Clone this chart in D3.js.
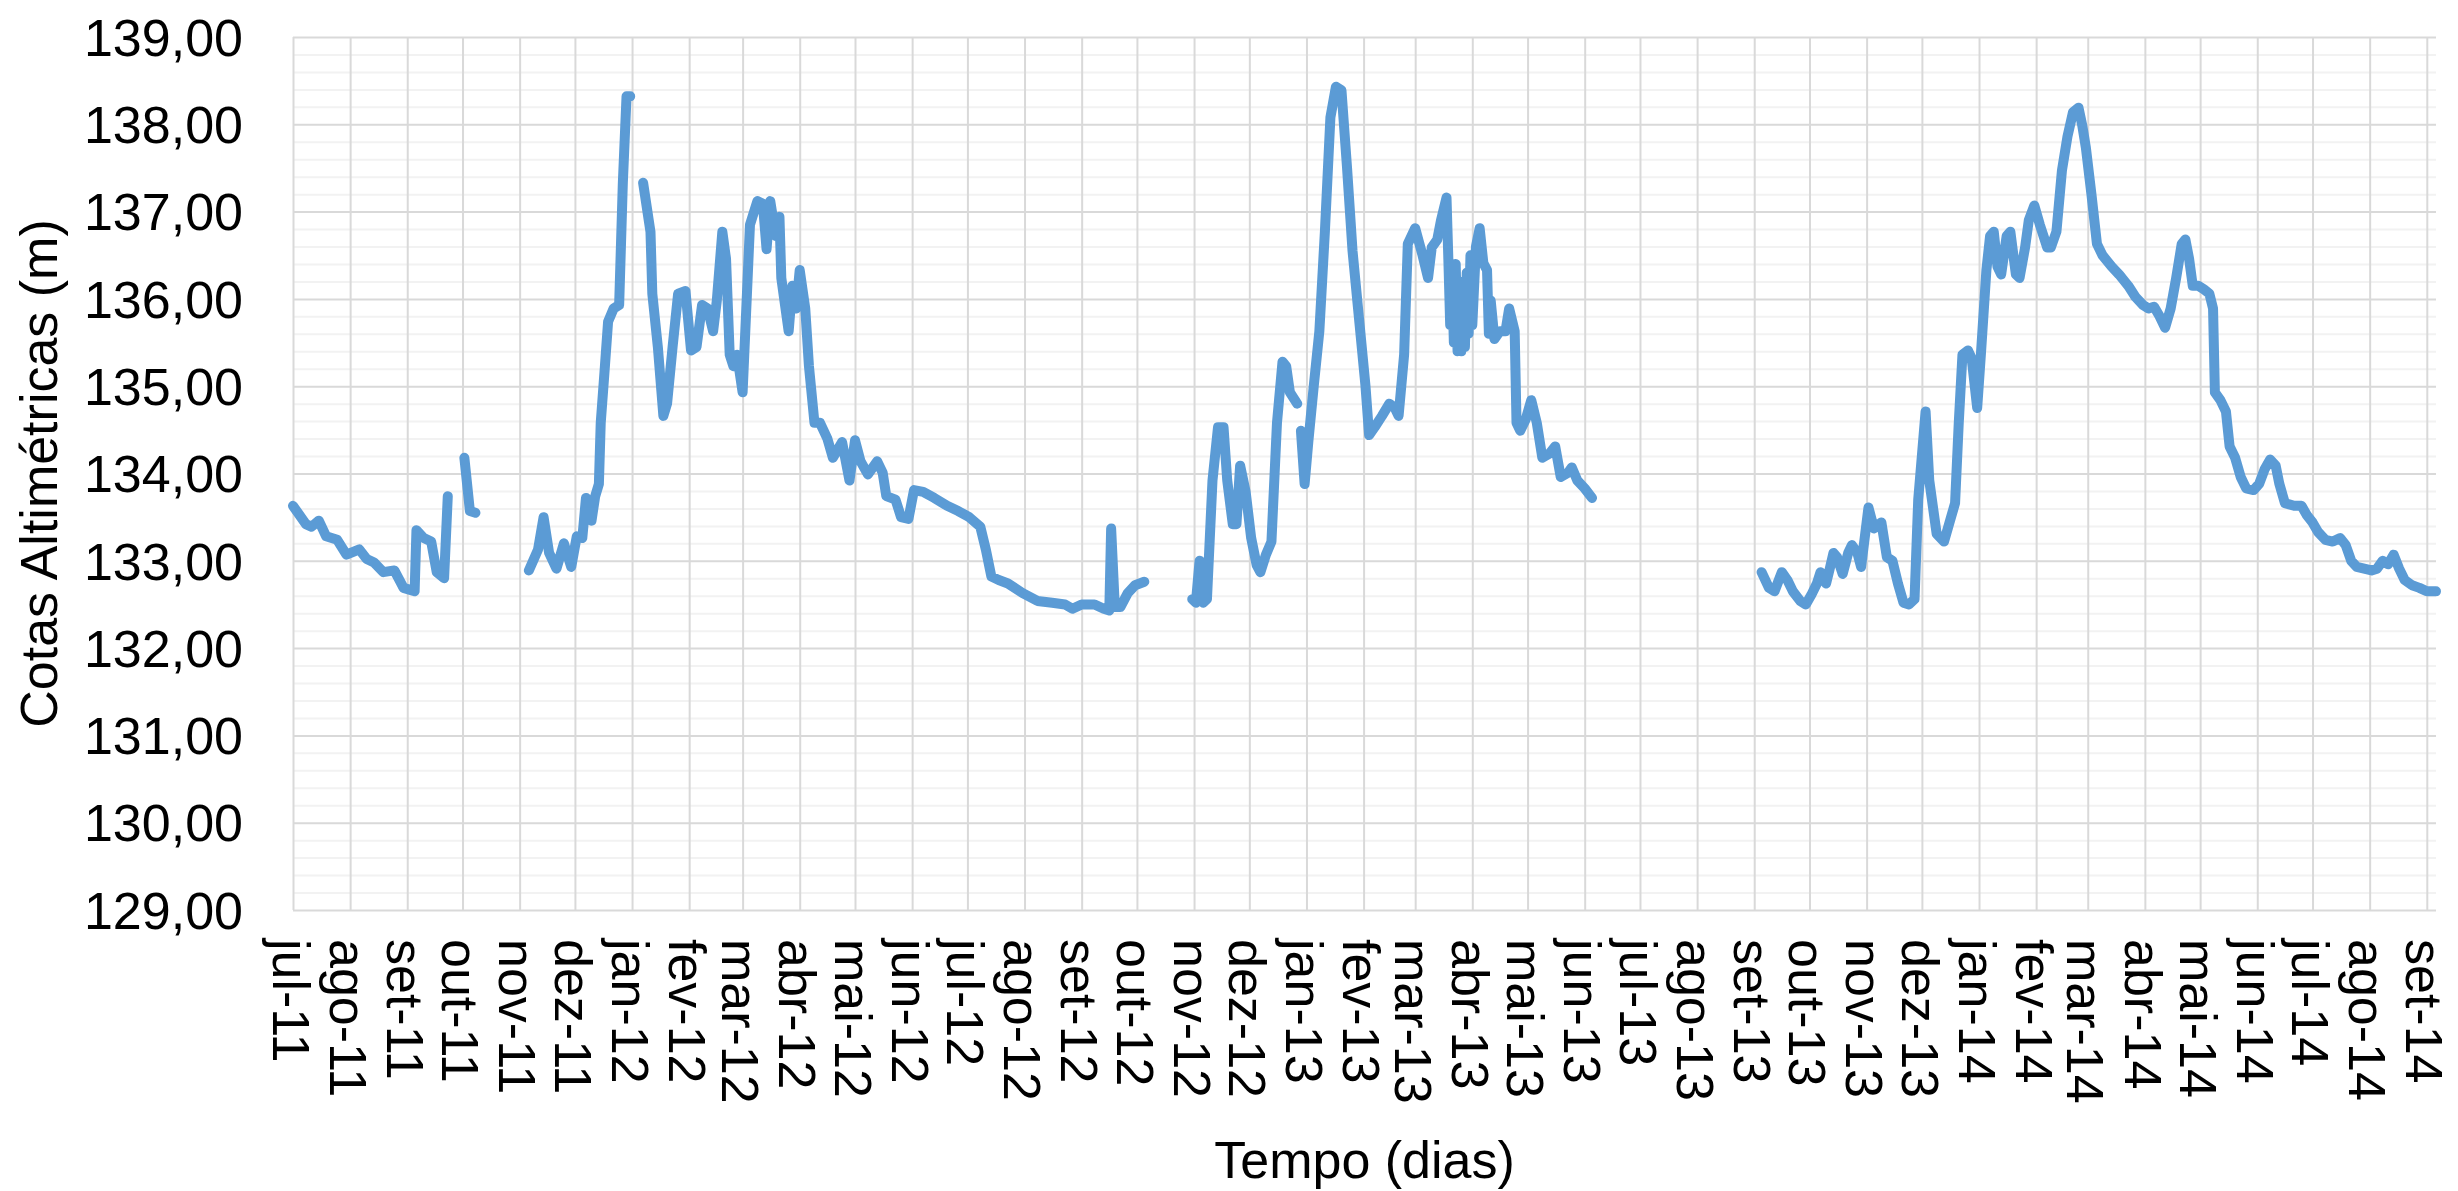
<!DOCTYPE html>
<html>
<head>
<meta charset="utf-8">
<script src="https://cdn.jsdelivr.net/npm/d3@7"></script>
<style>
  body { margin: 0; background: #fff; }
  svg { display: block; }
  .rotulo { font-family: "Liberation Sans", Arial, sans-serif; font-size: 52px; fill: #000; }
</style>
</head>
<body>
<script>
// rótulos do eixo x (um por mês)
var rotulosX = ["jul-11","ago-11","set-11","out-11","nov-11","dez-11",
  "jan-12","fev-12","mar-12","abr-12","mai-12","jun-12","jul-12","ago-12","set-12","out-12","nov-12","dez-12",
  "jan-13","fev-13","mar-13","abr-13","mai-13","jun-13","jul-13","ago-13","set-13","out-13","nov-13","dez-13",
  "jan-14","fev-14","mar-14","abr-14","mai-14","jun-14","jul-14","ago-14","set-14"];
var ticksY = [129, 130, 131, 132, 133, 134, 135, 136, 137, 138, 139];
var inicio = "2011-07-01";
var fim = "2014-09-06";

// cotas, um trecho por período contínuo de medição
var trecho1 = [["2011-07-01",133.63],["2011-07-08",133.42],["2011-07-11",133.39],["2011-07-15",133.46],
  ["2011-07-19",133.28],["2011-07-25",133.24],["2011-07-30",133.07],["2011-08-06",133.13],["2011-08-10",133.02],
  ["2011-08-14",132.98],["2011-08-19",132.87],["2011-08-25",132.89],["2011-08-30",132.69],["2011-09-05",132.65],
  ["2011-09-06",133.35],["2011-09-10",133.26],["2011-09-14",133.22],["2011-09-17",132.87],["2011-09-21",132.80],
  ["2011-09-23",133.74]];
var trecho2 = [["2011-10-02",134.18],["2011-10-05",133.57],["2011-10-08",133.55]];
var trecho3 = [["2011-11-06",132.89],["2011-11-11",133.13],["2011-11-14",133.50],["2011-11-17",133.09],
  ["2011-11-21",132.91],["2011-11-25",133.20],["2011-11-29",132.93],["2011-12-02",133.28],["2011-12-05",133.26],
  ["2011-12-07",133.72],["2011-12-10",133.46],["2011-12-12",133.74],["2011-12-14",133.88],["2011-12-15",134.58],
  ["2011-12-17",135.15],["2011-12-19",135.74],["2011-12-22",135.89],["2011-12-25",135.93],["2011-12-27",137.33],
  ["2011-12-29",138.32],["2011-12-31",138.32]];
var trecho4 = [["2012-01-07",137.33],["2012-01-11",136.77],["2012-01-12",136.06],["2012-01-15",135.45],
  ["2012-01-18",134.66],["2012-01-20",134.80],["2012-01-23",135.45],["2012-01-26",136.06],["2012-01-30",136.09],
  ["2012-02-02",135.41],["2012-02-05",135.45],["2012-02-08",135.93],["2012-02-11",135.89],["2012-02-14",135.63],
  ["2012-02-16",135.98],["2012-02-19",136.77],["2012-02-21",136.46],["2012-02-23",135.36],["2012-02-25",135.23],
  ["2012-02-27",135.36],["2012-03-01",134.93],["2012-03-03",135.89],["2012-03-05",136.85],["2012-03-09",137.12],
  ["2012-03-12",137.09],["2012-03-14",136.57],["2012-03-16",137.12],["2012-03-19",136.72],["2012-03-21",136.94],
  ["2012-03-22",136.24],["2012-03-26",135.63],["2012-03-28",136.15],["2012-03-30",135.89],["2012-04-01",136.33],
  ["2012-04-04",135.89],["2012-04-06",135.23],["2012-04-09",134.58],["2012-04-12",134.58],["2012-04-16",134.40],
  ["2012-04-19",134.18],["2012-04-24",134.36],["2012-04-28",133.92],["2012-05-01",134.38],["2012-05-04",134.14],
  ["2012-05-08",133.99],["2012-05-13",134.14],["2012-05-16",134.01],["2012-05-18",133.74],["2012-05-23",133.70],
  ["2012-05-26",133.50],["2012-05-30",133.48],["2012-06-02",133.81],["2012-06-07",133.79],["2012-06-13",133.72],
  ["2012-06-20",133.63],["2012-06-26",133.57],["2012-07-02",133.50],["2012-07-08",133.39],["2012-07-11",133.13],
  ["2012-07-14",132.82],["2012-07-18",132.78],["2012-07-23",132.74],["2012-07-31",132.63],["2012-08-08",132.54],
  ["2012-08-16",132.52],["2012-08-23",132.50],["2012-08-27",132.45],["2012-09-01",132.50],["2012-09-08",132.50],
  ["2012-09-13",132.45],["2012-09-16",132.43],["2012-09-17",133.37],["2012-09-19",132.47],["2012-09-22",132.47],
  ["2012-09-26",132.63],["2012-09-30",132.72],["2012-10-05",132.76]];
var trecho5 = [["2012-10-31",132.56],["2012-11-02",132.52],["2012-11-04",133.00],["2012-11-06",132.52],
  ["2012-11-08",132.56],["2012-11-11",133.92],["2012-11-14",134.53],["2012-11-17",134.53],["2012-11-19",133.92],
  ["2012-11-22",133.42],["2012-11-24",133.42],["2012-11-26",134.09],["2012-11-29",133.79],["2012-12-02",133.26],
  ["2012-12-05",132.95],["2012-12-07",132.87],["2012-12-10",133.07],["2012-12-13",133.22],["2012-12-16",134.58],
  ["2012-12-19",135.28],["2012-12-21",135.23],["2012-12-23",134.93],["2012-12-27",134.80]];
var trecho6 = [["2012-12-29",134.49],["2012-12-31",133.88],["2013-01-02",134.36],["2013-01-05",135.01],
  ["2013-01-08",135.63],["2013-01-11",136.77],["2013-01-14",138.08],["2013-01-17",138.43],["2013-01-20",138.39],
  ["2013-01-23",137.51],["2013-01-26",136.55],["2013-01-29",135.89],["2013-02-02",135.01],["2013-02-04",134.44],
  ["2013-02-07",134.53],["2013-02-11",134.66],["2013-02-15",134.80],["2013-02-18",134.75],["2013-02-20",134.66],
  ["2013-02-23",135.36],["2013-02-25",136.63],["2013-03-01",136.81],["2013-03-05",136.50],["2013-03-08",136.24],
  ["2013-03-10",136.59],["2013-03-13",136.68],["2013-03-15",136.90],["2013-03-18",137.16],["2013-03-19",136.46],
  ["2013-03-20",135.70],["2013-03-21",136.30],["2013-03-22",135.50],["2013-03-23",136.40],["2013-03-24",135.40],
  ["2013-03-25",136.20],["2013-03-26",135.40],["2013-03-27",135.90],["2013-03-28",135.45],["2013-03-29",136.30],
  ["2013-03-30",135.60],["2013-03-31",136.50],["2013-04-01",135.70],["2013-04-03",136.60],["2013-04-05",136.81],
  ["2013-04-07",136.41],["2013-04-09",136.33],["2013-04-10",135.60],["2013-04-11",135.98],["2013-04-13",135.54],
  ["2013-04-16",135.63],["2013-04-19",135.63],["2013-04-21",135.89],["2013-04-24",135.63],["2013-04-25",134.58],
  ["2013-04-27",134.49],["2013-04-30",134.62],["2013-05-03",134.84],["2013-05-06",134.58],["2013-05-09",134.18],
  ["2013-05-13",134.23],["2013-05-16",134.31],["2013-05-19",133.96],["2013-05-23",134.01],["2013-05-25",134.07],
  ["2013-05-28",133.92],["2013-06-01",133.83],["2013-06-05",133.72]];
var trecho7 = [["2013-09-05",132.87],["2013-09-09",132.69],["2013-09-12",132.65],["2013-09-16",132.87],
  ["2013-09-19",132.78],["2013-09-22",132.65],["2013-09-26",132.54],["2013-09-29",132.50],["2013-10-02",132.61],
  ["2013-10-05",132.74],["2013-10-07",132.87],["2013-10-10",132.74],["2013-10-12",132.91],["2013-10-14",133.09],
  ["2013-10-16",133.04],["2013-10-19",132.85],["2013-10-22",133.09],["2013-10-24",133.18],["2013-10-27",133.09],
  ["2013-10-29",132.93],["2013-11-02",133.61],["2013-11-05",133.37],["2013-11-09",133.44],["2013-11-12",133.04],
  ["2013-11-15",133.00],["2013-11-18",132.74],["2013-11-21",132.52],["2013-11-24",132.50],["2013-11-27",132.56],
  ["2013-11-29",133.70],["2013-12-03",134.71],["2013-12-05",133.92],["2013-12-09",133.31],["2013-12-13",133.22],
  ["2013-12-16",133.44],["2013-12-19",133.66],["2013-12-21",134.58],["2013-12-23",135.36],["2013-12-26",135.41],
  ["2013-12-28",135.32],["2013-12-31",134.75],["2014-01-02",135.36],["2014-01-05",136.33],["2014-01-07",136.72],
  ["2014-01-09",136.77],["2014-01-11",136.37],["2014-01-13",136.28],["2014-01-16",136.72],["2014-01-18",136.77],
  ["2014-01-21",136.28],["2014-01-23",136.24],["2014-01-26",136.59],["2014-01-28",136.90],["2014-01-31",137.07],
  ["2014-02-03",136.85],["2014-02-07",136.59],["2014-02-09",136.59],["2014-02-12",136.77],["2014-02-15",137.47],
  ["2014-02-18",137.86],["2014-02-21",138.14],["2014-02-24",138.19],["2014-02-26",137.99],["2014-02-28",137.73],
  ["2014-03-03",137.20],["2014-03-06",136.63],["2014-03-09",136.50],["2014-03-14",136.37],["2014-03-18",136.28],
  ["2014-03-23",136.15],["2014-03-27",136.02],["2014-03-31",135.93],["2014-04-03",135.89],["2014-04-06",135.91],
  ["2014-04-09",135.80],["2014-04-12",135.67],["2014-04-15",135.89],["2014-04-18",136.24],["2014-04-21",136.63],
  ["2014-04-23",136.68],["2014-04-25",136.46],["2014-04-27",136.15],["2014-04-30",136.15],["2014-05-03",136.11],
  ["2014-05-06",136.06],["2014-05-08",135.89],["2014-05-09",134.93],["2014-05-12",134.84],["2014-05-15",134.71],
  ["2014-05-17",134.31],["2014-05-20",134.18],["2014-05-23",133.96],["2014-05-26",133.83],["2014-05-30",133.81],
  ["2014-06-02",133.88],["2014-06-05",134.05],["2014-06-08",134.16],["2014-06-11",134.09],["2014-06-13",133.88],
  ["2014-06-16",133.66],["2014-06-21",133.63],["2014-06-25",133.63],["2014-06-28",133.52],["2014-07-01",133.44],
  ["2014-07-04",133.33],["2014-07-08",133.24],["2014-07-12",133.22],["2014-07-16",133.26],["2014-07-19",133.18],
  ["2014-07-22",133.00],["2014-07-25",132.93],["2014-07-29",132.91],["2014-08-02",132.89],["2014-08-05",132.91],
  ["2014-08-08",133.00],["2014-08-11",132.96],["2014-08-14",133.07],["2014-08-17",132.91],["2014-08-20",132.78],
  ["2014-08-24",132.72],["2014-08-28",132.69],["2014-09-01",132.65],["2014-09-06",132.65]];

var trechos = [trecho1, trecho2, trecho3, trecho4, trecho5, trecho6, trecho7];

// svg params
var svgWidth = 2458;
var svgHeight = 1191;
var margin = { top: 37, right: 22, bottom: 281, left: 293 };
var chartWidth = svgWidth - margin.left - margin.right;
var chartHeight = svgHeight - margin.top - margin.bottom;

var parseData = d3.timeParse("%Y-%m-%d");
var ptBR = d3.formatLocale({ decimal: ",", thousands: ".", grouping: [3], currency: ["R$", ""] });
var fmtY = ptBR.format(".2f");

var svg = d3.select("body")
  .append("svg")
  .attr("width", svgWidth)
  .attr("height", svgHeight);

var chartGroup = svg.append("g")
  .attr("transform", `translate(${margin.left}, ${margin.top})`);

// scales
var xTimeScale = d3.scaleTime()
  .domain([parseData(inicio), parseData(fim)])
  .range([0, chartWidth]);

var yLinearScale = d3.scaleLinear()
  .domain([ticksY[0], ticksY[ticksY.length - 1]])
  .range([chartHeight, 0]);

var mesesX = rotulosX.map((r, i) => d3.timeMonth.offset(parseData(inicio), i));

// minor gridlines (0,2 m)
var menores = d3.range(0, (ticksY.length - 1) * 5)
  .filter(i => i % 5 !== 0)
  .map(i => ticksY[0] + i * 0.2);

chartGroup.append("g")
  .call(d3.axisLeft(yLinearScale).tickValues(menores).tickSize(-chartWidth).tickFormat(""))
  .call(g => g.select(".domain").remove())
  .selectAll("line")
  .attr("stroke", "#f2f2f2")
  .attr("stroke-width", 2);

// vertical gridlines, one per month
chartGroup.append("g")
  .attr("transform", `translate(0, ${chartHeight})`)
  .call(d3.axisBottom(xTimeScale).tickValues(mesesX).tickSize(-chartHeight).tickFormat(""))
  .call(g => g.select(".domain").remove())
  .selectAll("line")
  .attr("stroke", "#d9d9d9")
  .attr("stroke-width", 2);

// major gridlines + y labels
var leftAxis = chartGroup.append("g")
  .call(d3.axisLeft(yLinearScale).tickValues(ticksY).tickSize(-chartWidth).tickPadding(50).tickFormat(fmtY))
  .call(g => g.select(".domain").remove());

leftAxis.selectAll("line")
  .attr("stroke", "#d9d9d9")
  .attr("stroke-width", 2);

leftAxis.selectAll("text")
  .attr("class", "rotulo")
  .attr("dy", "0.35em");
leftAxis.attr("font-size", null).attr("font-family", null);

// x labels (rotated)
var bottomAxis = chartGroup.append("g")
  .attr("transform", `translate(0, ${chartHeight})`)
  .call(d3.axisBottom(xTimeScale).tickValues(mesesX).tickSize(0).tickFormat((d, i) => rotulosX[i]))
  .call(g => g.select(".domain").remove());
bottomAxis.attr("font-size", null).attr("font-family", null);

bottomAxis.selectAll("text")
  .attr("class", "rotulo")
  .attr("x", 0)
  .attr("y", 0)
  .attr("dy", "0.4em")
  .attr("text-anchor", "start")
  .attr("transform", "translate(0, 29) rotate(90)");

// series line
var linha = d3.line()
  .x(d => xTimeScale(parseData(d[0])))
  .y(d => yLinearScale(d[1]));

chartGroup.selectAll(".cota")
  .data(trechos)
  .enter()
  .append("path")
  .attr("class", "cota")
  .attr("d", linha)
  .attr("fill", "none")
  .attr("stroke", "#5b9bd5")
  .attr("stroke-width", 10)
  .attr("stroke-linejoin", "round")
  .attr("stroke-linecap", "round");

// axes titles
svg.append("text")
  .attr("class", "rotulo")
  .attr("transform", `translate(57, ${margin.top + chartHeight / 2}) rotate(-90)`)
  .attr("text-anchor", "middle")
  .text("Cotas Altimétricas (m)");

svg.append("text")
  .attr("class", "rotulo")
  .attr("x", margin.left + chartWidth / 2)
  .attr("y", 1178)
  .attr("text-anchor", "middle")
  .text("Tempo (dias)");
</script>
</body>
</html>
